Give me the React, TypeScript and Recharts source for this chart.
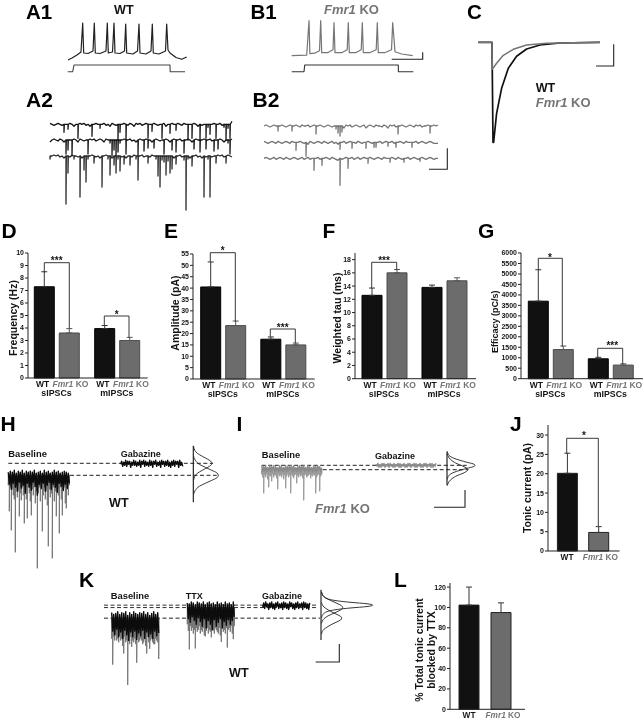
import React from 'react'
import { LineChart, Line, XAxis, YAxis, BarChart, Bar, ErrorBar, Cell } from 'recharts'

const SANS = '"Liberation Sans", Arial, sans-serif'
const BLACK = '#141414'
const GREY = '#757575'
const BAR_WT = '#111111'
const BAR_KO = '#6c6c6c'

// bar panels
const groups = ['sIPSCs', 'mIPSCs']
const freqWt = [7.3, 3.95]
const freqKo = [3.6, 3.0]
const freqWtErr = [1.2, 0.25]
const freqKoErr = [0.35, 0.25]
const ampWt = [40.5, 17.5]
const ampKo = [23.5, 15]
const ampWtErr = [11, 1]
const ampKoErr = [2, 0.8]
const tauWt = [12.6, 13.8]
const tauKo = [16, 14.8]
const tauWtErr = [1.1, 0.35]
const tauKoErr = [0.5, 0.45]
const effWt = [3700, 950]
const effKo = [1390, 650]
const effWtErr = [1500, 70]
const effKoErr = [170, 60]
const genotypes = ['WT', 'Fmr1 KO']
const tonicMean = [20.1, 4.8]
const tonicErr = [5.2, 1.5]
const blockedMean = [102.3, 95]
const blockedErr = [17.7, 9.5]

const freqTicks = [0, 1, 2, 3, 4, 5, 6, 7, 8, 9, 10]
const ampTicks = [0, 5, 10, 15, 20, 25, 30, 35, 40, 45, 50, 55]
const tauTicks = [0, 2, 4, 6, 8, 10, 12, 14, 16, 18]
const effTicks = [0, 500, 1000, 1500, 2000, 2500, 3000, 3500, 4000, 4500, 5000, 5500, 6000]
const tonicTicks = [0, 5, 10, 15, 20, 25, 30]
const blockedTicks = [0, 20, 40, 60, 80, 100, 120]

// A1 / B1 current clamp
const a1Time = [0, 4, 9, 13, 14.7, 15.7, 20, 25, 26.3, 27.3, 32, 38, 39.3, 40.3, 44.5, 46, 47, 52, 56.5, 57.7, 58.7, 65, 69.5, 71, 72, 78, 83, 84.3, 85.3, 91, 97.5, 98.7, 100, 102, 108, 113.7, 118.7]
const a1Vm = [0, 2, 5, 8, 37, 7, 6.5, 9, 37, 7, 6.5, 9, 37, 7, 8, 37, 7, 6.5, 9, 36, 7, 6, 9, 36, 7, 6, 9, 36, 7, 6, 9, 36, 10, 7, 2.5, 0.7, 3]
const a1CmdTime = [0, 5, 6.3, 102.3, 102.5, 117.3]
const a1CmdLevel = [0, 0, 6.7, 6.7, 0, 0]
const b1Time = [0, 15, 17.3, 18.2, 23, 27.8, 29, 30, 36, 41.3, 42.3, 43.3, 50, 55.5, 56.6, 57.6, 64, 69.5, 70.6, 71.6, 78, 84.5, 85.6, 86.6, 93, 99.8, 101, 103.3, 110, 121]
const b1Vm = [0, 0.5, 35, 2, 2.5, 5, 35, 3, 3, 6, 33, 3, 3, 6, 33, 3, 3, 6, 33, 3, 3, 6, 33, 3, 3, 6, 33, 4, 1.7, 0]
const b1CmdTime = [0, 12.3, 13, 106.6, 106.7, 121.6]
const b1CmdLevel = [0, 0, 6.7, 6.7, 0, 0]

// A2 / B2 voltage clamp sweeps
const a2Row1 = [1, 0, -1, 0, 1, 0, -1, -8, 0, -5, 1, 0, -2, 0, -14, 1, 0, 1, -1, 0, -2, -12, 0, 1, 0, -4, 0, 1, -1, 0, -2, 1, 0, -1, -16, -8, 0, 1, -16, -1, 1, 0, -2, 1, 0, 1, -1, 0, 1, -14, 0, -7, 1, 0, -1, 0, -14, 1, -2, 0, -9, 1, 0, -6, 1, 0, -1, 1, 0, -16, 0, -14, 1, 0, -2, -16, -1, 0, -14, -3, -10, 0, 1, -14, 0, 1, -1, -3, -16, -4, -14, 3]
const a2Row2 = [-2, 0, 1, 0, -1, 1, 0, -2, -14, -10, 0, -16, 1, 0, -2, 1, 0, -1, 0, -14, 1, 0, 1, -1, 0, 1, 0, -2, 1, 0, -3, -16, -10, -16, -12, -3, 0, 1, -14, 0, 1, -1, 0, -2, -16, 1, 0, -11, 1, -8, 0, -2, -8, 1, 0, -1, 0, -14, 1, 0, -2, -10, 1, -12, 0, 1, -1, -13, 0, 1, 0, -2, -9, 1, 0, -12, 0, 1, -9, 0, 1, -1, -11, 0, -9, 1, 0, -2, 0, -3, -14, 1]
const a2Row3 = [-3, 0, 1, 0, 1, -1, 0, -2, -48, -17, -1, 1, -3, 0, -1, -41, -2, -14, -26, -3, 0, 1, -7, -1, 0, -2, -31, 0, 1, -3, -19, -2, -9, -17, -3, -15, -1, -8, -2, 0, -9, -1, 1, -3, -24, 0, 1, -1, 0, -7, -1, 1, 0, -3, -20, -31, -4, -6, -19, -5, -17, -13, -2, -8, 0, 1, -1, -4, -54, -3, -2, -10, 0, 1, -1, 0, -2, -41, -1, -3, -41, -1, 0, -7, 1, 0, 1, -1, -7, 1, 0, -1]
const b2Row1 = [0, 1, 0, -1, 0, 1, 0, -5, 0, 1, 0, -1, 0, 1, -5, 0, 1, 0, -1, 1, 0, 0, 1, -1, 0, 1, -8, 0, 1, 0, -1, 0, 1, 0, -1, 0, -3, -7, -10, -6, -2, 1, 0, 1, -1, 0, 1, 0, -1, 0, 1, -2, 0, 1, 0, -1, 1, 0, 0, -1, 1, 0, -2, 1, 0, 1, -1, -8, 0, 1, 0, -1, 0, 1, 0, -1, 1, 0, 1, -1, 0, 0, 1, -7, 0, 1, 0, 1]
const b2Row2 = [1, 0, -1, 0, 1, 0, -1, 1, 0, -1, 0, 1, 0, -1, 1, 0, -8, 0, 1, 0, -1, -14, -2, 1, 0, -1, 0, 1, 0, -1, 1, 0, -1, 0, 1, -1, 0, -2, -7, 0, 1, -1, 0, 1, -6, 0, -1, 1, 0, -1, 0, -6, 1, 0, -1, -5, -5, 0, 1, -1, 0, 1, -4, 0, 1, -1, -5, 0, 1, 0, -1, 1, 0, 0, -5, 0, 1, -1, 0, 1, 0, -1, 0, 1, 0, -1, -1, -1]
const b2Row3 = [0, 1, 0, -1, 0, 1, -1, 0, 1, 0, -1, 1, 0, -1, 0, 1, 0, -1, 0, 1, -1, 0, 1, -1, 0, -12, 0, 1, -1, -7, 0, 1, 0, -1, 1, 0, -1, -2, -27, -1, 0, 1, -10, 0, 1, -1, 0, 1, -1, 0, 1, 0, -5, 1, 0, -1, 0, 1, 0, -1, 1, 0, 0, -4, 1, 0, -1, 1, 0, -1, -4, 0, 1, -1, 0, 1, 0, -1, -3, 1, 0, -1, 0, 1, 0, -1, 0, 0]

// C averaged events
const cWtTime = [0, 13.7, 14.7, 15.3, 18.3, 23.3, 30, 38.3, 48.3, 61.7, 81.7, 121.7]
const cWtCurrent = [0, 0, -100, -100, -71, -46, -26, -14, -6.7, -2.7, -0.7, 0]
const cKoTime = [0, 13.7, 14, 18.3, 25, 35, 48.3, 68, 121.7]
const cKoCurrent = [0, 0, -27, -21, -13, -7, -2.7, -1, 0]

// H, I, K tonic current recordings
const hBaseSpikes = [-10, -36, -12, -55, -14, -20, -24, -77, -12, -22, -16, -41, -18, -25, -12, -20, -48, -15, -24, -43, -12, -18, -26, -40, -14, -20, -12, -28, -16, -93, -18, -12, -26, -14, -56, -20, -12, -24, -16, -30, -71, -14, -22, -18, -83, -12, -26, -16, -41, -14, -20, -58, -12, -24, -40, -16, -12, -28, -33, -14, -20, -10]
const hBaseNoise = [3, -9, 4, -14, 3, -8, 5, -12, 2, -16, 4, -7, 3, -13, 5, -10, 2, -18, 4, -8, 3, -12, 4, -15, 3, -7, 5, -11, 2, -20, 3, -9, 4, -13, 2, -8, 5, -16, 3, -10, 4, -7, 2, -14, 3, -9, 5, -12, 3, -17, 4, -8, 2, -11, 3, -15, 4, -9, 3, -13, 2, -8]
const hGabaNoise = [-1, 2, -3, 1, -2, 3, -3, 2, -1, 2, -4, 1, -2, 3, -2, 2, -3, 1, -2, 3, -4, 2, -1, 3, -3, 2, -2, 1, -3, 3, -2, 2, -4, 2, -1, 3, -3, 1, -2, 2, -4, 3, -1, 2, -3, 2, -2, 3, -3, 1, -4, 2, -2, 3, -3, 2, -1, 2, -4, 3, -2, 1, -3]
const iBaseSpikes = [-5, -8, -24, -6, -8, -5, -10, -18, -6, -7, -12, -5, -8, -6, -6, -9, -20, -5, -7, -6, -8, -5, -10, -6, -19, -7, -5, -8, -6, -24, -5, -7, -9, -6, -5, -14, -6, -8, -5, -7, -6, -9, -31, -6, -5, -8, -7, -6, -5, -9, -6, -7, -5, -6, -24, -8, -6, -5, -22, -7, -5]
const iBaseNoise = [3, -3, 2, -2, 3, -3, 1, -2, 3, -3, 2, -1, 3, -3, 2, -2, 1, -3, 3, -2, 2, -3, 1, -2, 3, -3, 2, -2, 3, -1, 2, -3, 3, -2, 1, -3, 2, -2, 3, -3, 2, -1, 3, -3, 1, -2, 3, -3, 2, -2, 1, -3, 3, -2, 2, -3, 3, -1, 2, -3, 1]
const iGabaNoise = [1, -1, 2, -2, 1, -2, 2, -1, 2, -2, 1, -1, 2, -2, 2, -1, 1, -2, 2, -2, 1, -1, 2, -2, 2, -2, 1, -1, 2, -2, 1, -2, 2, -1, 2, -2, 1, -1, 2, -2, 2, -2, 1, -1, 2, -2, 1, -2, 2, -1, 2, -2, 1, -1, 2, -2, 2, -2, 1, -1, 2]
const kBaseSpikes = [-22, -50, -20, -24, -18, -24, -22, -26, -19, -24, -22, -30, -38, -20, -26, -24, -72, -22, -28, -20, -31, -24, -26, -22, -28, -48, -20, -26, -24, -22, -24, -28, -26, -22, -30, -38, -20, -26, -33, -24, -22, -26, -28, -28, -22, -24, -26, -44]
const kBaseNoise = [6, -14, 4, -18, 5, -12, 7, -20, 4, -15, 6, -22, 5, -13, 7, -18, 3, -24, 6, -15, 4, -20, 7, -14, 5, -23, 4, -16, 6, -19, 5, -13, 7, -22, 4, -15, 6, -20, 3, -17, 5, -22, 7, -14, 4, -19, 6, -16]
const kTtxSpikes = [-18, -25, -45, -20, -25, -22, -28, -24, -44, -22, -26, -24, -20, -28, -24, -26, -22, -30, -31, -25, -22, -28, -24, -26, -32, -20, -25, -28, -22, -24, -26, -28, -22, -30, -37, -22, -26, -24, -28, -22, -43, -24, -22, -26, -20, -28, -34, -20]
const kTtxNoise = [5, -12, 4, -16, 6, -10, 5, -14, 3, -18, 6, -11, 5, -15, 4, -20, 6, -12, 3, -22, 5, -14, 6, -18, 4, -24, 5, -13, 3, -20, 6, -16, 4, -12, 5, -22, 3, -15, 6, -19, 4, -13, 5, -18, 3, -14, 6, -10]
const kGabaNoise = [-2, 3, -3, 4, -1, 2, -4, 3, -2, 4, -3, 2, -4, 3, -1, 4, -3, 2, -2, 3, -4, 4, -2, 3, -3, 2, -4, 4, -1, 3, -3, 2, -4, 3, -2, 4, -3, 2, -1, 3, -4, 4, -2, 3, -3, 2, -4, 3]

// all-points histograms, rotated
const hGabaLevel = [17, 13, 10, 7, 4, 2, 0, -2, -4, -7, -10, -13, -17]
const hGabaCount = [0.3, 1.5, 4, 9, 14.5, 17.5, 18.7, 17.5, 14.5, 9, 4, 1.5, 0.3]
const hBaseLevel = [19, 15, 11, 8, 5, 2.5, 0, -2.5, -5, -8, -11, -15, -19]
const hBaseCount = [0.3, 2, 6, 12, 18.5, 23.5, 25, 23.5, 18.5, 12, 6, 2, 0.3]
const iGabaLevel = [14, 10, 7, 5, 3, 1.5, 0, -1.5, -3, -5, -7, -10, -14]
const iGabaCount = [0.3, 2, 7, 13, 20, 26, 28, 26, 20, 13, 7, 2, 0.3]
const iBaseLevel = [16, 12, 9, 6, 4, 2, 0, -2, -4, -6, -9, -12, -16]
const iBaseCount = [0.3, 2, 5, 10, 15, 19, 21, 19, 15, 10, 5, 2, 0.3]
const kGabaLevel = [14, 10, 7, 5, 3, 1.5, 0, -1.5, -3, -5, -7, -10, -14]
const kGabaCount = [0.5, 2, 6, 14, 30, 46, 51.7, 46, 30, 14, 6, 2, 0.5]
const kTtxLevel = [17, 12, 9, 6, 4, 2, 0, -2, -4, -6, -9, -12, -17]
const kTtxCount = [0.5, 3, 7, 13, 17, 20.5, 21.7, 20.5, 17, 13, 7, 3, 0.5]
const kBaseLevel = [17, 12, 9, 6, 4, 2, 0, -2, -4, -6, -9, -12, -17]
const kBaseCount = [0.5, 3, 7, 12, 16, 19.5, 20.7, 19.5, 16, 12, 7, 3, 0.5]

const sweep = (values: number[], start: number, lift = 0, step = 1) =>
  values.map((y, i) => ({ x: start + i * step, y: y + lift }))
// events are fast compared with the sample step, so a deep sample is drawn as a vertical stroke off the baseline
const spiky = (values: number[], start: number, lift = 0, step = 1) =>
  values.flatMap((y, i) => {
    const x = start + i * step
    return y < -2
      ? [{ x, y: lift }, { x, y: y + lift }, { x: x + 0.3, y: lift }]
      : [{ x, y: y + lift }]
  })
const pairs = (xs: number[], ys: number[], start: number, lift = 0) =>
  xs.map((x, i) => ({ x: x + start, y: ys[i] + lift }))

type Series = { points: { x: number; y: number }[]; color: string; width?: number; dash?: string; curve?: any }

function Trace({ top, height, zero, width = 643, series }: { top: number; height: number; zero: number; width?: number; series: Series[] }) {
  return (
    <div style={{ position: 'absolute', left: 0, top }}>
      <LineChart width={width} height={height} margin={{ top: 0, right: 0, bottom: 0, left: 0 }}>
        <XAxis type="number" dataKey="x" domain={[0, width]} hide />
        <YAxis type="number" domain={[zero - top - height, zero - top]} hide />
        {series.map((s, i) => (
          <Line
            key={i}
            data={s.points}
            dataKey="y"
            type={s.curve || 'linear'}
            stroke={s.color}
            strokeWidth={s.width || 1}
            strokeDasharray={s.dash}
            strokeLinejoin="round"
            dot={false}
            activeDot={false}
            isAnimationActive={false}
          />
        ))}
      </LineChart>
    </div>
  )
}

const FmrLabel = ({ x, y, size, anchor = 'start' }: { x: number; y: number; size: number; anchor?: string }) => (
  <text x={x} y={y} fontSize={size} fontWeight="bold" fill={GREY} textAnchor={anchor as any} fontFamily={SANS}>
    <tspan fontStyle="italic">Fmr1</tspan> KO
  </text>
)

const GroupTick = ({ x, y, payload }: any) => (
  <g>
    <text x={x - 14} y={y + 9} fontSize={8.5} fontWeight="bold" fill={BLACK} textAnchor="middle" fontFamily={SANS}>WT</text>
    <FmrLabel x={x + 14} y={y + 9} size={8.5} anchor="middle" />
    <text x={x} y={y + 18} fontSize={8.8} fontWeight="bold" fill={BLACK} textAnchor="middle" fontFamily={SANS}>{payload.value}</text>
  </g>
)

const GenotypeTick = ({ x, y, payload }: any) =>
  payload.value === 'WT' ? (
    <text x={x} y={y + 9} fontSize={8.3} fontWeight="bold" fill={BLACK} textAnchor="middle" fontFamily={SANS}>WT</text>
  ) : (
    <FmrLabel x={x + 2} y={y + 9} size={8.3} anchor="middle" />
  )

const tickStyle = { fontSize: 7, fontWeight: 'bold', fill: BLACK, fontFamily: SANS }

function GroupedBars({ axisX, plotTop, zeroY, endX, padLeft, padRight, max, ticks, wt, ko, wtErr, koErr }: any) {
  const gutter = 30
  const data = groups.map((g, i) => ({ group: g, wt: wt[i], ko: ko[i], wtErr: [0, wtErr[i]], koErr: [0, koErr[i]] }))
  return (
    <div style={{ position: 'absolute', left: axisX - gutter, top: plotTop - 4 }}>
      <BarChart
        width={endX - axisX + gutter + 8}
        height={zeroY - plotTop + 4 + 24}
        data={data}
        barSize={20}
        barGap={5}
        margin={{ top: 4, right: 8, bottom: 0, left: 0 }}
      >
        <XAxis dataKey="group" height={24} tick={<GroupTick />} tickLine={false} tickSize={0} tickMargin={0} interval={0} stroke="#222" padding={{ left: padLeft, right: padRight }} />
        <YAxis width={gutter} domain={[0, max]} ticks={ticks} interval={0} tick={tickStyle} tickSize={3} tickMargin={1} stroke="#222" />
        <Bar dataKey="wt" fill={BAR_WT} stroke="#000" isAnimationActive={false}>
          <ErrorBar dataKey="wtErr" direction="y" width={3} stroke="#333" strokeWidth={1} isAnimationActive={false} />
        </Bar>
        <Bar dataKey="ko" fill={BAR_KO} stroke="#4c4c4c" isAnimationActive={false}>
          <ErrorBar dataKey="koErr" direction="y" width={3} stroke="#555" strokeWidth={1} isAnimationActive={false} />
        </Bar>
      </BarChart>
    </div>
  )
}

function GenotypeBars({ axisX, plotTop, zeroY, endX, padLeft, padRight, max, ticks, mean, err, bottom = 16 }: any) {
  const gutter = 30
  const data = genotypes.map((g, i) => ({ genotype: g, mean: mean[i], err: [0, err[i]] }))
  return (
    <div style={{ position: 'absolute', left: axisX - gutter, top: plotTop - 4 }}>
      <BarChart
        width={endX - axisX + gutter + 8}
        height={zeroY - plotTop + 4 + bottom}
        data={data}
        barSize={20}
        margin={{ top: 4, right: 8, bottom: 0, left: 0 }}
      >
        <XAxis dataKey="genotype" height={bottom} tick={<GenotypeTick />} tickLine={false} tickSize={0} tickMargin={0} interval={0} stroke="#222" padding={{ left: padLeft, right: padRight }} />
        <YAxis width={gutter} domain={[0, max]} ticks={ticks} interval={0} tick={tickStyle} tickSize={3} tickMargin={1} stroke="#222" />
        <Bar dataKey="mean" stroke="#222" isAnimationActive={false}>
          <Cell fill={BAR_WT} />
          <Cell fill={BAR_KO} />
          <ErrorBar dataKey="err" direction="y" width={3} stroke="#333" strokeWidth={1} isAnimationActive={false} />
        </Bar>
      </BarChart>
    </div>
  )
}

const Letter = ({ x, y, children, size = 21 }: any) => (
  <text x={x} y={y} fontSize={size} fontWeight="bold" fill="#000" fontFamily={SANS}>{children}</text>
)
const Small = ({ x, y, children, size = 9 }: any) => (
  <text x={x} y={y} fontSize={size} fontWeight="bold" fill={BLACK} fontFamily={SANS}>{children}</text>
)
const AxisTitle = ({ x, y, children, size = 10.5 }: any) => (
  <text x={x} y={y} fontSize={size} fontWeight="bold" fill={BLACK} fontFamily={SANS} textAnchor="middle" transform={`rotate(-90 ${x} ${y})`}>{children}</text>
)
const Bracket = ({ x1, y1, x2, y2, top, label, lx, ly }: any) => (
  <g>
    <path d={`M${x1} ${y1}V${top}H${x2}V${y2}`} fill="none" stroke="#222" strokeWidth={0.9} />
    <text x={lx} y={ly + 5} fontSize={10} fontWeight="bold" fill={BLACK} fontFamily={SANS} textAnchor="middle">{label}</text>
  </g>
)
const ScaleBar = ({ d }: { d: string }) => <path d={d} fill="none" stroke="#222" strokeWidth={1.1} />

export default function App() {
  return (
    <div style={{ position: 'absolute', left: 0, top: 0, width: 643, height: 720, overflow: 'hidden', background: '#fff', fontFamily: SANS, filter: 'blur(0.4px)' }}>
      {/* A1 and B1 */}
      <Trace top={15} height={60} zero={60} series={[
        { points: pairs(a1Time, a1Vm, 68), color: '#222', width: 1.2 },
        { points: pairs(a1CmdTime, a1CmdLevel, 67.7, -11.7), color: '#444', width: 1.1 },
        { points: pairs(b1Time, b1Vm, 291.7, 4.3), color: GREY, width: 1.2 },
        { points: pairs(b1CmdTime, b1CmdLevel, 291.7, -11.7), color: '#333', width: 1.1 },
      ]} />
      {/* A2 and B2 */}
      <Trace top={115} height={100} zero={140} series={[
        { points: spiky(a2Row1, 50, 15.7, 2), color: BLACK, width: 1.3 },
        { points: spiky(a2Row2, 50, 0, 2), color: BLACK, width: 1.3 },
        { points: spiky(a2Row3, 50, -16, 2), color: '#2a2a2a', width: 1.3 },
        { points: spiky(b2Row1, 264, 14, 2), color: GREY, width: 1.3 },
        { points: spiky(b2Row2, 264, -2.3, 2), color: GREY, width: 1.3 },
        { points: spiky(b2Row3, 264, -18.3, 2), color: GREY, width: 1.3 },
      ]} />
      {/* C */}
      <Trace top={30} height={120} zero={42.3} series={[
        { points: pairs(cWtTime, cWtCurrent, 478.3), color: '#111', width: 1.7 },
        { points: pairs(cKoTime, cKoCurrent, 478.3), color: GREY, width: 1.5 },
      ]} />

      <GroupedBars axisX={28.3} plotTop={253.3} zeroY={378.3} endX={148} padLeft={-1.7} padRight={0.6} max={10} ticks={freqTicks} wt={freqWt} ko={freqKo} wtErr={freqWtErr} koErr={freqKoErr} />
      <GroupedBars axisX={193.3} plotTop={254} zeroY={379} endX={315} padLeft={-0.3} padRight={1.7} max={55} ticks={ampTicks} wt={ampWt} ko={ampKo} wtErr={ampWtErr} koErr={ampKoErr} />
      <GroupedBars axisX={355} plotTop={253.3} zeroY={379} endX={476} padLeft={-1} padRight={2} max={19} ticks={tauTicks} wt={tauWt} ko={tauKo} wtErr={tauWtErr} koErr={tauKoErr} />
      <GroupedBars axisX={521} plotTop={253.3} zeroY={379} endX={643} padLeft={-0.7} padRight={2.7} max={6000} ticks={effTicks} wt={effWt} ko={effKo} wtErr={effWtErr} koErr={effKoErr} />
      <GenotypeBars axisX={547.7} plotTop={425} zeroY={551} endX={619.3} padLeft={3.4} padRight={5.6} max={32.6} ticks={tonicTicks} mean={tonicMean} err={tonicErr} />
      <GenotypeBars axisX={450} plotTop={583} zeroY={709.3} endX={525} padLeft={3} padRight={8} max={124} ticks={blockedTicks} mean={blockedMean} err={blockedErr} bottom={10.7} />

      {/* H and I */}
      <Trace top={440} height={135} zero={475.3} width={500} series={[
        { points: [{ x: 8.3, y: 12 }, { x: 213, y: 12 }], color: '#222', dash: '4 2.5' },
        { points: [{ x: 70, y: 0 }, { x: 216.7, y: 0 }], color: '#222', dash: '4 2.5' },
        { points: spiky(hBaseSpikes, 8.3), color: '#777' },
        { points: sweep(hBaseNoise, 8.3), color: '#0c0c0c', width: 1.4 },
        { points: sweep(hGabaNoise, 120.7, 12), color: '#0c0c0c', width: 1.4 },
        { points: [{ x: 193.3, y: 29.6 }, { x: 193.3, y: -27 }], color: '#111', width: 1.1 },
        { points: pairs(hGabaCount, hGabaLevel, 193.3, 12), color: '#222', width: 0.9, curve: 'monotoneY' },
        { points: pairs(hBaseCount, hBaseLevel, 193.3), color: '#222', width: 0.9, curve: 'monotoneY' },
        { points: [{ x: 261.7, y: 10 }, { x: 466.7, y: 10 }], color: '#222', dash: '4 2.5' },
        { points: [{ x: 322.7, y: 5.6 }, { x: 468, y: 5.6 }], color: '#222', dash: '4 2.5' },
        { points: spiky(iBaseSpikes, 261.7, 6), color: '#999' },
        { points: sweep(iBaseNoise, 261.7, 6.6), color: '#8a8a8a', width: 1.4 },
        { points: sweep(iGabaNoise, 376, 10), color: '#8a8a8a', width: 1.3 },
        { points: [{ x: 447, y: 23.6 }, { x: 447, y: -9.7 }], color: '#111', width: 1.1 },
        { points: pairs(iGabaCount, iGabaLevel, 447, 10), color: '#222', width: 0.9, curve: 'monotoneY' },
        { points: pairs(iBaseCount, iBaseLevel, 447, 5.6), color: '#222', width: 0.9, curve: 'monotoneY' },
      ]} />

      {/* K */}
      <Trace top={585} height={100} zero={620.7} width={400} series={[
        { points: [{ x: 104, y: 14 }, { x: 316.7, y: 14 }], color: '#333', dash: '4 2.5' },
        { points: [{ x: 104, y: 11.4 }, { x: 316.7, y: 11.4 }], color: '#333', dash: '4 2.5' },
        { points: [{ x: 104, y: 0 }, { x: 320, y: 0 }], color: '#222', dash: '4 2.5' },
        { points: spiky(kBaseSpikes, 111.7), color: '#777' },
        { points: sweep(kBaseNoise, 111.7), color: '#0c0c0c', width: 1.4 },
        { points: spiky(kTtxSpikes, 187.3, 11.4), color: '#777' },
        { points: sweep(kTtxNoise, 187.3, 11.4), color: '#0c0c0c', width: 1.4 },
        { points: sweep(kGabaNoise, 262.7, 13.4), color: '#0c0c0c', width: 1.4 },
        { points: [{ x: 321, y: 30.7 }, { x: 321, y: -23.6 }], color: '#111', width: 1.1 },
        { points: pairs(kGabaCount, kGabaLevel, 321, 14), color: '#222', width: 0.9, curve: 'monotoneY' },
        { points: pairs(kTtxCount, kTtxLevel, 321, 11.4), color: '#222', width: 0.9, curve: 'monotoneY' },
        { points: pairs(kBaseCount, kBaseLevel, 321), color: '#222', width: 0.9, curve: 'monotoneY' },
      ]} />

      <svg width={643} height={720} style={{ position: 'absolute', left: 0, top: 0, pointerEvents: 'none' }}>
        <Letter x={26} y={18.5} size={20.5}>A1</Letter>
        <Letter x={250.5} y={18.5} size={20.5}>B1</Letter>
        <Letter x={467} y={18.5} size={20.5}>C</Letter>
        <Letter x={26} y={107.3}>A2</Letter>
        <Letter x={252.5} y={107.3}>B2</Letter>
        <Letter x={1.5} y={238.3}>D</Letter>
        <Letter x={164} y={238.3}>E</Letter>
        <Letter x={322.5} y={238.3}>F</Letter>
        <Letter x={478} y={238.3}>G</Letter>
        <Letter x={0.5} y={431}>H</Letter>
        <Letter x={236.5} y={431}>I</Letter>
        <Letter x={510} y={431}>J</Letter>
        <Letter x={79} y={587}>K</Letter>
        <Letter x={394} y={587}>L</Letter>

        <Small x={114} y={14} size={12.6}>WT</Small>
        <FmrLabel x={324} y={14} size={13} />
        <Small x={535.7} y={91.7} size={12.6}>WT</Small>
        <FmrLabel x={535.7} y={106.7} size={13} />
        <Small x={109} y={507.3} size={12.6}>WT</Small>
        <FmrLabel x={315} y={512.7} size={13} />
        <Small x={229} y={677.3} size={12.6}>WT</Small>

        <Small x={8.3} y={456.7} size={9.4}>Baseline</Small>
        <Small x={120.7} y={456.7}>Gabazine</Small>
        <Small x={261.7} y={458.3} size={9.4}>Baseline</Small>
        <Small x={375} y={459.3}>Gabazine</Small>
        <Small x={110.7} y={599} size={9.4}>Baseline</Small>
        <Small x={185.7} y={599}>TTX</Small>
        <Small x={262} y={599}>Gabazine</Small>

        <AxisTitle x={17} y={318}>Frequency (Hz)</AxisTitle>
        <AxisTitle x={179} y={313}>Amplitude (pA)</AxisTitle>
        <AxisTitle x={340.7} y={318}>Weighted tau (ms)</AxisTitle>
        <AxisTitle x={498.3} y={321.7} size={9}>Efficacy (pC/s)</AxisTitle>
        <AxisTitle x={530.7} y={488}>Tonic current (pA)</AxisTitle>
        <AxisTitle x={423.3} y={650}>% Total tonic current</AxisTitle>
        <AxisTitle x={435} y={650}>blocked by TTX</AxisTitle>

        <Bracket x1={44.3} y1={272.3} x2={69.3} y2={328.3} top={262.7} label="***" lx={56.7} ly={259} />
        <Bracket x1={104.3} y1={325} x2={129} y2={337.7} top={316} label="*" lx={116.7} ly={313.3} />
        <Bracket x1={210.3} y1={261.7} x2={235.3} y2={321.7} top={252.7} label="*" lx={222.7} ly={249.3} />
        <Bracket x1={270.3} y1={336.7} x2={295.3} y2={343.3} top={329} label="***" lx={282.7} ly={325.7} />
        <Bracket x1={371.7} y1={288.3} x2={396.7} y2={270} top={262.3} label="***" lx={384} ly={259} />
        <Bracket x1={538.3} y1={270} x2={562.3} y2={346.7} top={258.3} label="*" lx={550} ly={255.7} />
        <Bracket x1={597.7} y1={357.7} x2={622.7} y2={364} top={348.3} label="***" lx={612.3} ly={344.3} />
        <Bracket x1={566.7} y1={453.3} x2={598.3} y2={526} top={438.3} label="*" lx={584} ly={434.3} />

        <ScaleBar d="M391.7 59.3H422.7V52.3" />
        <ScaleBar d="M447.3 148.3V169.3H429" />
        <ScaleBar d="M613.7 44.3V66H596" />
        <ScaleBar d="M465 490V507.3H434" />
        <ScaleBar d="M339.3 644V662H315.7" />
      </svg>
    </div>
  )
}
